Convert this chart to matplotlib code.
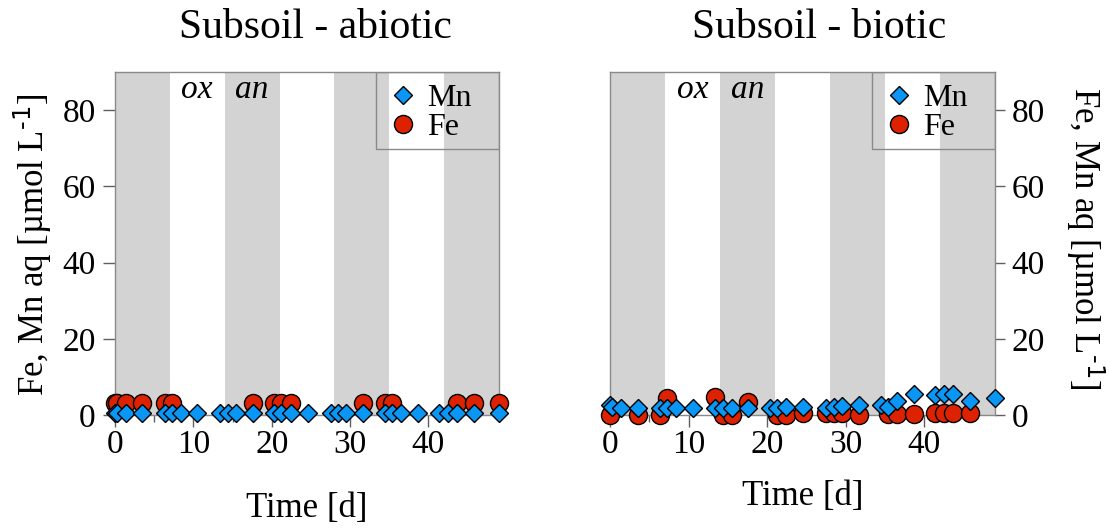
import numpy as np
import matplotlib
matplotlib.use("Agg")
import matplotlib.pyplot as plt
from matplotlib.patches import Rectangle
from matplotlib.lines import Line2D

plt.rcParams['font.family'] = ['Liberation Serif', 'DejaVu Serif']
plt.rcParams['mathtext.default'] = 'regular'

nan = np.nan

# sampling times [d]
days = [0.0, 0.3, 1.4, 3.5, 6.4, 7.3, 8.4, 10.5, 13.4, 14.4, 15.5, 17.6, 20.3, 21.2,
        22.4, 24.6, 27.5, 28.5, 29.5, 31.7, 34.5, 35.4, 36.5, 38.7, 41.4, 42.5,
        43.7, 45.8, 49.0]

# dissolved Mn and Fe [umol/L]
mn_abiotic = [0.5] * 29
fe_abiotic = [3.2, 3.2, 3.2, 3.2, 3.2, 3.2, nan, nan, nan, nan, nan, 3.2, 3.2, 3.2,
              3.2, nan, nan, nan, nan, 3.2, 3.2, 3.2, nan, nan, nan, nan, 3.2, 3.2, 3.2]
mn_biotic = [2.5, 2.2, 1.8, 1.8, 1.8, 1.8, 1.8, 1.8, 1.8, 1.8, 1.8, 1.8, 1.8, 1.8,
             2.0, 2.2, 1.9, 2.1, 2.4, 2.6, 2.6, 2.2, 3.7, 5.4, 5.2, 5.4, 5.4, 3.7, 4.4]
fe_biotic = [0.0, nan, nan, 0.0, 0.0, 4.4, nan, nan, 4.8, 0.0, 0.0, 3.3, nan, 0.0,
             0.0, 0.4, 0.4, 0.4, 0.4, 0.0, nan, 0.3, 0.3, 0.3, 0.5, 0.4, 0.4, 0.5, nan]

# anoxic phases (grey bands), 7-day cycles
an_starts = [0, 14, 28, 42]
phase_len = 7

titles = ["Subsoil - abiotic", "Subsoil - biotic"]
ylabel = "Fe, Mn aq [µmol L$^{\\text{-1}}$]"
xticks = [0, 10, 20, 30, 40]
xminor = [5, 15]
yticks = [0, 20, 40, 60, 80]

MN_COLOR = '#0a96f5'
FE_COLOR = '#dc2200'
BAND = '#d3d3d3'
FRAME = '#8a8a8a'
TICKC = '#606060'
MS_FE = 13
MS_MN = 9.5

W, H = 1109, 529
fig = plt.figure(figsize=(W / 100, H / 100), dpi=100)
ax1 = fig.add_axes([115 / W, 1 - 415 / H, 384 / W, 343 / H])
ax2 = fig.add_axes([610 / W, 1 - 415 / H, 385 / W, 343 / H])

panels = [(ax1, mn_abiotic, fe_abiotic, 'left'),
          (ax2, mn_biotic, fe_biotic, 'right')]

for ax, mn, fe, side in panels:
    ax.set_xlim(0, 49)
    ax.set_ylim(0, 90)
    for s in an_starts:
        ax.axvspan(s, s + phase_len, color=BAND, lw=0, zorder=0)
    ax.plot(days, fe, ls='none', marker='o', ms=MS_FE, mfc=FE_COLOR, mec='black',
            mew=1.0, clip_on=False, zorder=3)
    ax.plot(days, mn, ls='none', marker='D', ms=MS_MN, mfc=MN_COLOR, mec='black',
            mew=1.0, clip_on=False, zorder=4)

    for sp in ax.spines.values():
        sp.set_color(FRAME)
        sp.set_linewidth(1.0)

    ax.set_xticks(xticks)
    ax.set_xticks(xminor, minor=True)
    ax.set_yticks(yticks)
    ax.tick_params(axis='x', which='major', length=8.5, width=1, color=TICKC,
                   labelsize=24, pad=2)
    ax.tick_params(axis='x', which='minor', length=5, width=1, color=TICKC)
    if side == 'left':
        ax.tick_params(axis='y', length=9, width=1, color=TICKC, labelsize=24, pad=5)
    else:
        ax.yaxis.tick_right()
        ax.tick_params(axis='y', length=7, width=1, color=TICKC, labelsize=24, pad=5)

    ax.text(10.5, 85.3, 'ox', style='italic', fontsize=24, ha='center', va='center')
    ax.text(17.5, 85.3, 'an', style='italic', fontsize=24, ha='center', va='center')

    # legend frame
    ax.add_patch(Rectangle((0.680, 0.776), 0.320, 0.224, transform=ax.transAxes,
                           fill=False, edgecolor=FRAME, lw=1.0, zorder=5))
    handles = [Line2D([], [], ls='none', marker='D', ms=MS_MN, mfc=MN_COLOR, mec='black'),
               Line2D([], [], ls='none', marker='o', ms=MS_FE, mfc=FE_COLOR, mec='black')]
    ax.legend(handles, ['Mn', 'Fe'], loc='upper left', bbox_to_anchor=(0.680, 0.99),
              borderaxespad=0, borderpad=0.25, handlelength=1.19, handletextpad=0.16,
              labelspacing=0.0, frameon=False, fontsize=23)

ax1.set_title(titles[0], fontsize=30, x=0.523, y=1.128, va='center', pad=0)
ax2.set_title(titles[1], fontsize=30, x=0.542, y=1.128, va='center', pad=0)

ax1.set_xlabel('Time [d]', fontsize=25, va='center')
ax1.xaxis.set_label_coords(0.5, -(508 - 415) / 343)
ax2.set_xlabel('Time [d]', fontsize=25, va='center')
ax2.xaxis.set_label_coords(0.5, -(497 - 415) / 343)

ax1.set_ylabel(ylabel, fontsize=25, ha='center', va='center')
ax1.yaxis.set_label_coords((33 - 115) / 384, (415 - 245) / 343)
ax2.yaxis.set_label_position('right')
ax2.set_ylabel(ylabel, fontsize=25, rotation=270, ha='center', va='center')
ax2.yaxis.set_label_coords((1085 - 610) / 385, (415 - 238) / 343)

fig.savefig('out.png', dpi=100, facecolor='white')
